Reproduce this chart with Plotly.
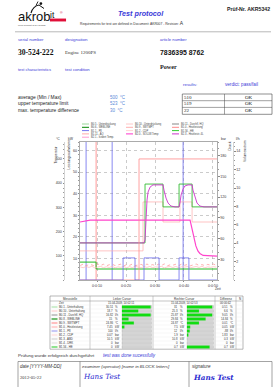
import plotly.graph_objects as go

W, H = 274, 387
def fx(x): return x / W
def fy(y): return 1 - y / H

# ---------------- chart data ----------------
time_tickvals = [10, 20, 30, 40, 50]
time_ticktext = ["0:0:10", "0:0:20", "0:0:30", "0:0:40", "0:0:50"]

# B2.3 - Heizleistung (kW), actual response
b23_t = [4.1, 26.2, 26.55, 26.9, 27.24, 27.6, 28.3, 29.3, 32.76, 33.1, 33.8, 34.5, 35.5, 36.9,
         38.3, 38.6, 39.0, 39.7, 40.3, 41.4, 42.8, 43.1, 43.8, 44.5, 45.5, 46.9, 51.4]
b23_kw = [17.2, 17.2, 18.6, 30.1, 37.1, 40.8, 43.1, 44.1, 44.1, 41.7, 38.0, 35.7, 34.3, 33.9,
          33.9, 35.7, 39.4, 42.2, 43.6, 44.1, 44.1, 41.7, 38.0, 35.7, 34.3, 33.9, 33.9]
# B1.56 - HE setpoint (kW)
he_t = [4.1, 26.55, 26.55, 32.76, 32.76, 38.3, 38.3, 42.8, 42.8, 51.4]
he_kw = [17.2, 17.2, 44.5, 44.5, 33.9, 33.9, 44.5, 44.5, 33.9, 33.9]
# B2.0 - Sollw. Temp (kW scale), bright magenta
b20_t = [4.1, 5.5, 7.6, 42.1, 42.6, 43.1, 43.6, 44.1, 44.8, 45.5, 46.6, 51.4]
b20_kw = [26.9, 27.4, 27.8, 27.8, 25.0, 21.3, 18.1, 15.8, 13.5, 12.3, 11.4, 11.1]
# B0.6 - WEBLINE (kW), dark green
b06_t = [4.1, 9.66, 9.66, 51.4]
b06_kw = [8.3, 8.3, 5.1, 5.1]
# B1.0 - Heizleistung (kW), light pink
b10_t = [4.1, 25.86, 25.86, 32.76, 32.76, 38.6, 38.6, 42.8, 42.8, 51.4]
b10_kw = [13.5, 13.5, 36.2, 36.2, 26.9, 26.9, 36.2, 36.2, 26.9, 26.9]
# Temperature limit (degC)
lim_t = [4.1, 24.48, 24.48, 51.4]
lim_c = [0, 0, 500, 500]
# B1.1 - P8 flow (l/h)
p8_t = [4.1, 18.97, 18.97, 23.1, 23.1, 26.2, 26.2, 31.4, 31.4, 38.3, 38.3, 41.7, 41.7, 51.4]
p8_lh = [0, 0, 2.4, 2.4, 0, 0, 2.4, 2.4, 0, 0, 2.4, 2.4, 0, 0]
# B1.11 - AQ pressure (bar), noisy
aq_t = [4.2, 5.2, 6.2, 7.2, 8.2, 9.2, 10.2, 11.2, 12.2, 13.2, 14.2, 15.2, 16.2, 17.2, 18.2, 19.2,
        20.2, 21.2, 22.2, 23.2, 24.2, 25.2, 26.2, 27.2, 28.2, 29.2, 30.2, 31.2, 32.2, 33.2, 34.2,
        35.2, 36.2, 37.2, 38.2, 39.2, 40.2, 41.2, 42.2, 43.2, 44.2, 45.2, 46.2, 47.2, 48.2, 49.2,
        50.2, 51.2]
aq_bar = [21.0, 23.1, 20.4, 22.6, 21.9, 20.2, 23.4, 21.1, 22.8, 20.6, 22.1, 23.0, 20.9, 21.5,
          22.9, 20.3, 22.4, 21.2, 23.2, 20.8, 21.8, 22.7, 20.5, 23.1, 21.4, 22.2, 20.7, 22.9,
          21.0, 23.3, 20.4, 22.0, 21.6, 22.8, 20.9, 23.0, 21.3, 22.5, 20.6, 21.9, 23.2, 21.1,
          22.3, 20.8, 22.6, 21.5, 23.0, 21.2]
aq2_bar = [18.9, 17.8, 19.6, 18.2, 19.9, 17.6, 18.8, 19.7, 17.9, 19.2, 18.1, 19.8, 17.7, 19.0,
           18.4, 19.5, 17.8, 19.3, 18.0, 19.9, 18.6, 17.7, 19.4, 18.3, 19.6, 17.9, 19.1, 18.5,
           19.8, 17.6, 18.9, 19.4, 18.1, 19.7, 17.8, 19.2, 18.7, 19.5, 17.9, 18.8, 19.6, 18.2,
           19.9, 17.7, 19.0, 18.4, 19.3, 18.6]
cursor_blue_t = [6.2, 15.2, 39.7]
cursor_red_t = [9.66]
event_t = [5.5, 11.0, 16.2, 18.6, 21.7, 27.9, 31.4, 34.5]

# legend entries (column, row, color, label)
legend_cols = [
    [("#9ad89a", "B0.5 - Unterdrückung"), ("#008800", "B0.6 - WEBLINE"), ("#7777ee", "B1.1 - P8"),
     ("#ffaaaa", "B1.11 - AQ"), ("#ff9ad0", "B2.1 - Istwert Temp.")],
    [("#ffc8c8", "B0.10 - Unterdrückung"), ("#ffb0b0", "B0.9 - SWTMPT"), ("#ffd6d6", "B1.2 - CDP"),
     ("#ff33cc", "B2.0 - SOLLW.Temp")],
    [("#888888", "B0.11 - Durchfl. HQ"), ("#ff8a8a", "B1.0 - Heizleistung"), ("#33cc33", "B1.56 - HE"),
     ("#cc33cc", "B2.3 - Heizleistr. 4L")],
]

# bottom value table
tbl_names = ["B0.1 - Unterhaltung", "B0.10 - Unterhaltung", "B0.11 - Durchfl. HQ", "B0.8 - WEBLINE",
             "B0.9 - SWTMPT", "B1.0 - Heizleistung", "B1.1 - P8", "B1.2 - CDP", "B1.3 - ABD",
             "B1.4 - DRK", "B1.56 - HE"]
tbl_colors = ["#a8e0a8", "#ffc8c8", "#999999", "#008800", "#ff8a8a", "#ffb0b0", "#9999ee",
              "#ffd6d6", "#cccccc", "#dddddd", "#33cc33"]
tbl_left_val = ["30.51", "18.7", "16.82", "15", "24.86", "7.45", "100", "0.07", "10.5", "0", "0"]
tbl_left_unit = ["%", "%", "l/h", "%", "°C", "kW", "l/h", "bar", "kW", "bar", "kW"]
tbl_left_frac = [0.97, 0.55, 0.97, 0.22, 0.4, 0.08, 0.0, 0.0, 0.0, 0.0, 0.0]
tbl_right_val = ["31", "25.3", "25.87", "29.84", "24.87", "7.5", "12", "1.9", "10.8", "0", "0.7"]
tbl_right_unit = ["%", "%", "l/h", "%", "°C", "kW", "l/h", "bar", "kW", "bar", "kW"]
tbl_right_frac = [0.95, 0.45, 0.95, 0.7, 0.45, 0.12, 0.1, 0.05, 0.0, 0.0, 0.85]
tbl_diff_val = ["0.51", "6.6", "9.05", "14.84", "0.01", "0.05", "-88", "1.83", "0.3", "0", "0.7"]
tbl_diff_unit = tbl_left_unit

# ---------------- helpers ----------------
annotations = []
shapes = []

def txt(x, y, s, size, color="#000000", family="Liberation Sans", xanchor="left",
        yanchor="middle", angle=0):
    annotations.append(dict(x=fx(x), y=fy(y), xref="paper", yref="paper", text=s,
                            showarrow=False, font=dict(size=size, color=color, family=family),
                            xanchor=xanchor, yanchor=yanchor, borderpad=0, borderwidth=0,
                            textangle=angle))

def line(x0, y0, x1, y1, color="#888888", width=0.6, dash="solid"):
    shapes.append(dict(type="line", xref="paper", yref="paper", x0=fx(x0), y0=fy(y0),
                       x1=fx(x1), y1=fy(y1), line=dict(color=color, width=width, dash=dash)))

def rect(x0, y0, x1, y1, fill="rgba(0,0,0,0)", color="#888888", width=0.6):
    shapes.append(dict(type="rect", xref="paper", yref="paper", x0=fx(x0), y0=fy(y0),
                       x1=fx(x1), y1=fy(y1), fillcolor=fill,
                       line=dict(color=color, width=width)))

BLUE = "#3a3ad8"

# ---------------- header ----------------
txt(18, 16.5, "akrob", 13, "#111111")
txt(49.5, 14.5, "it", 8.5, "#111111")
txt(60, 13.5, "®", 3.5, "#d0103a")
rect(50, 18.6, 66, 21.4, fill="#e0103a", color="#e0103a", width=0.1)
txt(18, 24.5, "mehr schmidt & die akasss", 2.3, "#555555")
# acrobat figure
shapes.append(dict(type="path", xref="paper", yref="paper",
                   path="M %f,%f Q %f,%f %f,%f" % (fx(31), fy(13), fx(33), fy(6), fx(39), fy(5)),
                   line=dict(color="#111111", width=1.1)))
line(39, 5, 44, 8.5, "#111111", 1.0)
line(36, 5.5, 38, 1.5, "#111111", 0.9)
shapes.append(dict(type="circle", xref="paper", yref="paper", x0=fx(39.5), y0=fy(2.2),
                   x1=fx(42.3), y1=fy(5), fillcolor="#111111", line=dict(width=0)))

txt(141, 13, "<b><i>Test protocol</i></b>", 7.2, BLUE, xanchor="center")
txt(270, 9, "<b>Prüf-Nr. AKR5342</b>", 5.2, "#222222", xanchor="right")
txt(80, 23, "Requirements for test are defined in Document: AKR007 - Revision: "
    "<span style='font-size:5px'>A</span>", 3.3, "#333333")
line(15, 31.8, 271, 31.8, "#999999", 0.7)

txt(18, 39.5, "serial number", 4.2, BLUE)
txt(65, 39.5, "designation", 4.4, BLUE)
txt(160, 39.5, "article number", 4.2, BLUE)
txt(18, 52.5, "<b>30-524-222</b>", 7.6, "#111111", family="Liberation Serif")
txt(65, 52.5, "Engine 1200PS", 5.0, "#333333", family="Liberation Serif")
txt(160, 52.5, "<b>7836395 8762</b>", 6.9, "#111111")
txt(18, 70, "test characteristics", 4.0, BLUE)
txt(65, 70, "test condition", 4.2, BLUE)
txt(160, 66.5, "<b>Power</b>", 6.2, "#222222", family="Liberation Serif")

txt(183, 84.5, "results:", 4.4, BLUE)
txt(225, 84.5, "verdict: pass/fail", 4.6, BLUE)

rows_lbl = ["average (Min / Max)", "upper temperature limit", "max. temperature difference"]
rows_val = ["500  °C", "523  °C", "30  °C"]
res_val = ["510", "519", "22"]
res_ok = ["OK", "OK", "OK"]
for i, yy in enumerate([97.3, 104.0, 110.8]):
    txt(18, yy, rows_lbl[i], 4.9, "#222222")
    txt(110, yy, rows_val[i], 4.5, "#5a8ad8")
    txt(184, yy, res_val[i], 5.0, "#222222", family="Liberation Serif")
    txt(248.5, yy, res_ok[i], 5.0, "#222222", family="Liberation Serif", xanchor="center")
rect(182.3, 94, 272, 114.3, color="#444444", width=0.6)
line(182.3, 100.7, 272, 100.7, "#444444", 0.5)
line(182.3, 107.4, 272, 107.4, "#444444", 0.5)
line(224.5, 94, 224.5, 114.3, "#444444", 0.5)

# ---------------- legend above chart ----------------
col_x = [82, 126, 172]
for ci, col in enumerate(legend_cols):
    for ri, (c, lab) in enumerate(col):
        yy = 124 + 3.3 * ri
        line(col_x[ci], yy, col_x[ci] + 7, yy, c, 1.0)
        txt(col_x[ci] + 9, yy, lab, 2.6, "#444444")

# axis titles / units
txt(58, 139, "°C", 3.4, "#333333", xanchor="center")
txt(55.5, 155, "Temperatur", 3.4, "#333333", xanchor="center", angle=-90)
txt(71, 139, "kW", 3.4, "#333333", xanchor="center")
txt(68.5, 155, "Leistungsaufnahme", 3.4, "#333333", xanchor="center", angle=-90)
txt(224, 139, "bar", 3.4, "#333333", xanchor="center")
txt(229.5, 146, "Druck", 3.4, "#333333", xanchor="center", angle=-90)
txt(238, 139, "l/h", 3.4, "#333333", xanchor="center")
txt(245, 151, "Volumenstrom", 3.4, "#333333", xanchor="center", angle=-90)
txt(218, 288.5, "Zeit", 3.4, "#333333", xanchor="center")

# ---------------- bottom table ----------------
TX0, TX1 = 50, 243
rect(TX0, 296, TX1, 349.2, color="#888888", width=0.6)
for xv in [90, 153, 215, 236]:
    line(xv, 296, xv, 349.2, "#999999", 0.5)
line(TX0, 301, TX1, 301, "#888888", 0.5)
for i in range(1, 12):
    line(TX0, 301 + 4 * i, TX1, 301 + 4 * i, "#e4e4e4", 0.3)
txt(70, 298.6, "Messstelle", 3.0, "#333333", xanchor="center")
txt(121.5, 298.6, "Linker Cursor", 3.0, "#333333", xanchor="center")
txt(184, 298.6, "Rechter Cursor", 3.0, "#333333", xanchor="center")
txt(225.5, 298.6, "Differenz", 3.0, "#333333", xanchor="center")
txt(239.5, 298.6, "N", 3.0, "#333333", xanchor="center")
txt(59, 303, "Zeit", 2.8, "#333333")
txt(121.5, 303, "15.04.2009, 14:02:11", 2.8, "#333333", xanchor="center")
txt(184, 303, "15.04.2009, 14:02:53", 2.8, "#333333", xanchor="center")
txt(225.5, 303, "00:00:42", 2.8, "#333333", xanchor="center")
for i, name in enumerate(tbl_names):
    yy = 307 + 4 * i
    line(51.5, yy, 57.5, yy, tbl_colors[i], 1.1)
    txt(59, yy, name, 2.8, "#333333")
    txt(113, yy, tbl_left_val[i], 2.8, "#333333", xanchor="right")
    txt(115, yy, tbl_left_unit[i], 2.8, "#333333")
    rect(122, yy - 1.4, 151.5, yy + 1.4, fill="#d4d4d4", color="#999999", width=0.3)
    if tbl_left_frac[i] > 0:
        rect(122, yy - 1.4, 122 + 29.5 * tbl_left_frac[i], yy + 1.4, fill="#11dd11",
             color="#11dd11", width=0.1)
    txt(178, yy, tbl_right_val[i], 2.8, "#333333", xanchor="right")
    txt(180, yy, tbl_right_unit[i], 2.8, "#333333")
    rect(187, yy - 1.4, 213.5, yy + 1.4, fill="#d4d4d4", color="#999999", width=0.3)
    if tbl_right_frac[i] > 0:
        rect(187, yy - 1.4, 187 + 26.5 * tbl_right_frac[i], yy + 1.4, fill="#11dd11",
             color="#11dd11", width=0.1)
    txt(228, yy, tbl_diff_val[i], 2.8, "#333333", xanchor="right")
    txt(229.5, yy, tbl_diff_unit[i], 2.8, "#333333")

# ---------------- footer ----------------
txt(18, 355, "Prüfung wurde erfolgreich durchgeführt", 4.4, "#333333")
txt(103, 355, "<i>test was done sucessfully</i>", 4.6, BLUE)
rect(18, 361.5, 272, 395, color="#666666", width=0.6)
line(80, 361.5, 80, 395, "#666666", 0.6)
line(189, 361.5, 189, 395, "#666666", 0.6)
txt(20, 366, "<i>date [YYYY-MM-DD]</i>", 4.5, "#333333")
txt(82, 366, "<i>examiner (operator) [name in BLOCK letters]</i>", 4.4, "#333333")
txt(192, 366, "<i>signature</i>", 4.5, "#333333")
txt(20, 377.5, "2012-05-22", 4.6, "#333333", family="Liberation Serif")
txt(83, 376.5, "<i>Hans Test</i>", 7.2, "#2b2bd0", family="DejaVu Serif")
txt(193, 377.5, "<b><i>Hans Test</i></b>", 7.2, "#2b2bd0", family="DejaVu Serif")

# ---------------- chart traces ----------------
fig = go.Figure()
def tr(x, y, color, width=0.9, axis="y", dash="solid"):
    fig.add_trace(go.Scatter(x=x, y=y, mode="lines", yaxis=axis, hoverinfo="skip",
                             line=dict(color=color, width=width, dash=dash), showlegend=False))

for t in cursor_blue_t:
    tr([t, t], [0, 64], "#6a6aee", 0.8)
for t in cursor_red_t:
    tr([t, t], [0, 64], "#ff8080", 0.8)
tr(aq_t, aq2_bar, "#ffb8b8", 0.7, "y3")
tr(aq_t, aq_bar, "#ff8c8c", 0.7, "y3", "dot")
tr(p8_t, p8_lh, "#6a6aee", 0.8, "y4")
tr(b06_t, b06_kw, "#22bb22", 1.0)
tr(b10_t, b10_kw, "#ffaaaa", 0.7)
tr(lim_t, lim_c, "#ff8a8a", 0.8, "y2")
tr(he_t, he_kw, "#33bb33", 0.9)
tr(b23_t, b23_kw, "#cc33cc", 0.9)
tr(b20_t, b20_kw, "#ff44cc", 1.2)
fig.add_trace(go.Scatter(x=event_t, y=[-1.0] * len(event_t), mode="markers", cliponaxis=False,
                         marker=dict(symbol="triangle-up", size=2.6, color="#ee2222"),
                         hoverinfo="skip", showlegend=False))

tickf = dict(size=3.6, color="#333333", family="Liberation Sans")
fig.update_layout(
    width=W, height=H, autosize=False, margin=dict(l=0, r=0, t=0, b=0),
    paper_bgcolor="white", plot_bgcolor="white", showlegend=False,
    annotations=annotations, shapes=shapes,
    xaxis=dict(domain=[fx(80), fx(217)], range=[4.1, 51.4], tickvals=time_tickvals,
               ticktext=time_ticktext, tickfont=tickf, showgrid=True, gridcolor="#a8a8a8",
               griddash="dot", gridwidth=0.6, showline=True, linecolor="#888888", linewidth=0.7,
               mirror=True, ticks="outside", ticklen=1.5, tickcolor="#888888", zeroline=False),
    yaxis=dict(domain=[fy(280), fy(142)], range=[0, 64], tickvals=[10, 20, 30, 40, 50, 60],
               tickfont=tickf, showgrid=True, gridcolor="#a8a8a8", griddash="dot", gridwidth=0.6,
               showline=True, linecolor="#888888", linewidth=0.7, mirror=True, ticks="outside",
               ticklen=1.5, tickcolor="#888888", zeroline=False,
               minor=dict(dtick=2, ticklen=1, tickcolor="#999999", ticks="outside")),
    yaxis2=dict(overlaying="y", anchor="free", position=fx(64), side="left", range=[0, 570],
                tickvals=[100, 200, 300, 400, 500], tickfont=tickf, showgrid=False,
                showline=True, linecolor="#aaaaaa", linewidth=0.5, ticks="outside", ticklen=1.5,
                tickcolor="#888888", zeroline=False,
                minor=dict(dtick=20, ticklen=1, tickcolor="#999999", ticks="outside")),
    yaxis3=dict(overlaying="y", anchor="x", side="right", range=[0, 200],
                tickvals=[30, 60, 90, 120, 150, 180], tickfont=tickf, showgrid=False,
                showline=False, ticks="outside", ticklen=1.5, tickcolor="#888888",
                zeroline=False,
                minor=dict(dtick=10, ticklen=1, tickcolor="#999999", ticks="outside")),
    yaxis4=dict(overlaying="y", anchor="free", position=fx(233.5), side="right", range=[0, 15],
                tickvals=[2, 4, 6, 8, 10, 12, 14], tickfont=tickf, showgrid=False,
                showline=True, linecolor="#aaaaaa", linewidth=0.5, ticks="outside", ticklen=1.5,
                tickcolor="#888888", zeroline=False,
                minor=dict(dtick=0.5, ticklen=1, tickcolor="#999999", ticks="outside")),
)

fig.write_html("out.html", config={"displayModeBar": False, "staticPlot": True},
               post_script="document.body.style.margin='0';")
